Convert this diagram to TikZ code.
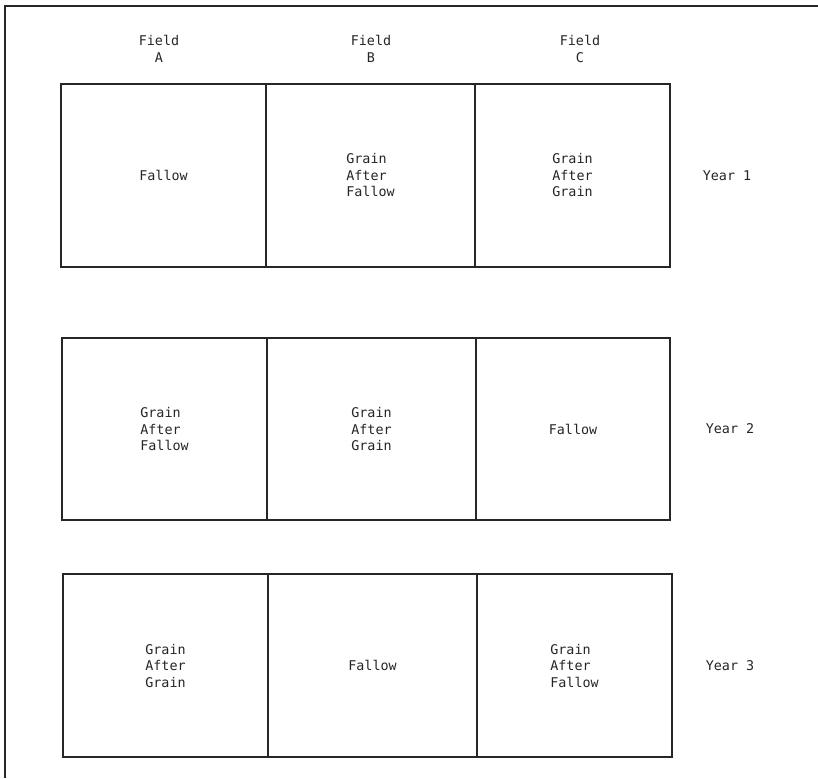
\documentclass[tikz,border=0pt]{standalone}
\usepackage{fontspec}
\setmonofont{DejaVu Sans Mono}
\begin{document}
\begin{tikzpicture}[x=1pt,y=-1pt,
  frameline/.style={line width=1.3pt, draw=black!85},
  cell/.style={draw=black!85, line width=1.2pt, inner sep=0pt, outer sep=0pt,
    minimum height=183pt, text=black!85,
    font=\ttfamily\fontsize{13.4}{16.5}\selectfont, align=left},
  lab/.style={inner sep=0pt, text=black!85, align=center,
    font=\ttfamily\fontsize{13.4}{16.5}\selectfont}]
\useasboundingbox (0,0) rectangle (818,778);
\fill[white] (0,0) rectangle (818,778);
\coordinate (ftl) at (5,6);
\coordinate (ftr) at (818,6);
\coordinate (fbl) at (5,778);
\draw[frameline] (ftr) -- (ftl) -- (fbl);
% field labels
\node[lab] (fa) at (159,49) {Field\\A};
\node[lab] (fb) at (371,49) {Field\\B};
\node[lab] (fc) at (580,49) {Field\\C};
% row 1
\node[cell, minimum width=205pt] (a1) at (163.5,175.5) {Fallow};
\node[cell, minimum width=209pt] (b1) at (370.5,175.5) {Grain\\After\\Fallow};
\node[cell, minimum width=195pt] (c1) at (572.5,175.5) {Grain\\After\\Grain};
\node[lab] (y1) at (727,175.5) {Year 1};
% row 2
\node[cell, minimum width=205pt, minimum height=182pt] (a2) at (164.5,429) {Grain\\After\\Fallow};
\node[cell, minimum width=209pt, minimum height=182pt] (b2) at (371.5,429) {Grain\\After\\Grain};
\node[cell, minimum width=194pt, minimum height=182pt] (c2) at (573,429) {Fallow};
\node[lab] (y2) at (730,429) {Year 2};
% row 3
\node[cell, minimum width=205pt] (a3) at (165.5,665.5) {Grain\\After\\Grain};
\node[cell, minimum width=209pt] (b3) at (372.5,665.5) {Fallow};
\node[cell, minimum width=195pt] (c3) at (574.5,665.5) {Grain\\After\\Fallow};
\node[lab] (y3) at (730,665.5) {Year 3};
\end{tikzpicture}
\end{document}
